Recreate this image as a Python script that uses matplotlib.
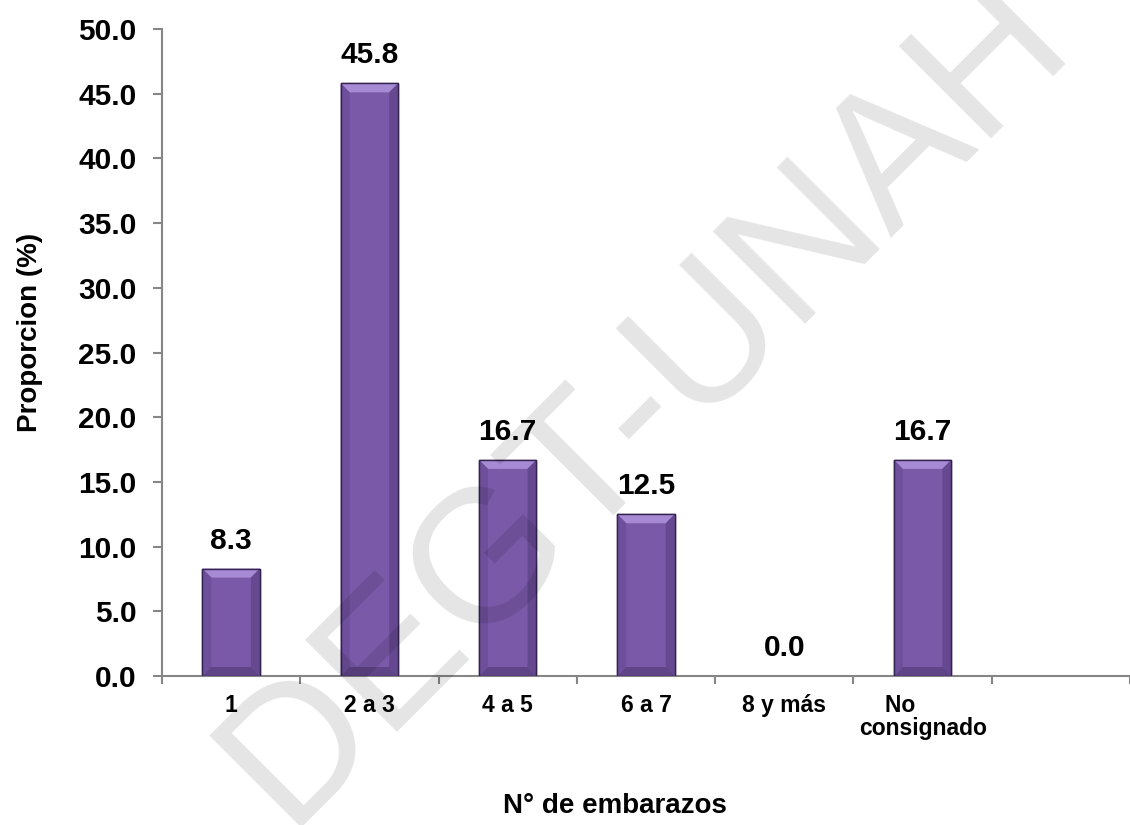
import numpy as np
import matplotlib
matplotlib.use("Agg")
import matplotlib.pyplot as plt
from matplotlib.patches import Polygon

plt.rcParams['font.family'] = ['Liberation Sans', 'DejaVu Sans']
plt.rcParams['font.weight'] = 'bold'

# Data
categories = ["1", "2 a 3", "4 a 5", "6 a 7", "8 y más", "No" + " " * 7 + "\nconsignado"]
proporcion = [8.3, 45.8, 16.7, 12.5, 0.0, 16.7]
y_ticks = [0, 5, 10, 15, 20, 25, 30, 35, 40, 45, 50]

W, H = 1130, 825
fig = plt.figure(figsize=(W / 100, H / 100), dpi=100)
ax = fig.add_axes([162 / W, 149 / H, 1 - 162 / W, (676 - 29) / H])

x = np.arange(len(categories))
bar_w = 0.415
face = '#7959a8'
bars = ax.bar(x, proporcion, width=bar_w, color=face, edgecolor='#33234f',
              linewidth=1.0, zorder=2)

# Bevel shading on each bar (lighter top facet, darker sides/bottom)
bev_x = 9 / 139.5
bev_y = 9 / (647 / 50)
for xi, h in zip(x, proporcion):
    if h <= 0:
        continue
    l, r = xi - bar_w / 2, xi + bar_w / 2
    by = min(bev_y, h / 3)
    facets = [
        ([[l, h], [r, h], [r - bev_x, h - by], [l + bev_x, h - by]], '#a78ad4'),
        ([[l, 0], [l, h], [l + bev_x, h - by], [l + bev_x, by]], '#6e4f9c'),
        ([[r, 0], [r, h], [r - bev_x, h - by], [r - bev_x, by]], '#654890'),
        ([[l, 0], [r, 0], [r - bev_x, by], [l + bev_x, by]], '#5f4488'),
    ]
    for pts, col in facets:
        ax.add_patch(Polygon(pts, closed=True, facecolor=col, edgecolor='none',
                             zorder=3))
    ax.add_patch(Polygon([[l, 0], [r, 0], [r, h], [l, h]], closed=True,
                         facecolor='none', edgecolor='#33234f', linewidth=1.0,
                         zorder=4))

ax.bar_label(bars, fmt='%.1f', padding=10, fontsize=21.5, fontweight='bold',
             color='black')

# Axes
ax.set_ylim(0, 50)
ax.set_xlim(-0.5, (W - 162) / 139.5 - 0.5)
ax.set_yticks(y_ticks)
ax.set_yticklabels([f"{v:.1f}" for v in y_ticks], fontsize=21.5, fontweight='bold')
ax.tick_params(axis='y', length=6.5, width=1.5, color='#868686', pad=12)

ax.set_xticks(np.arange(-0.5, len(categories) + 1, 1))
ax.set_xticklabels([])
ax.tick_params(axis='x', which='major', length=6, width=1.5, color='#868686')
ax.set_xticks(x, minor=True)
ax.set_xticklabels(categories, minor=True, fontsize=16.5, fontweight='bold',
                   linespacing=1.0)
ax.tick_params(axis='x', which='minor', length=0, pad=13)

for s in ('top', 'right'):
    ax.spines[s].set_visible(False)
for s in ('left', 'bottom'):
    ax.spines[s].set_color('#868686')
    ax.spines[s].set_linewidth(1.5)

fig.text(615 / W, 1 - 806 / H, 'N° de embarazos', ha='center', va='center',
         fontsize=20, fontweight='bold')
fig.text(30 / W, 1 - 332 / H, 'Proporcion (%)', ha='center', va='center',
         rotation=90, fontsize=20, fontweight='bold')

# Watermark
fig.text(645 / W, 1 - 400 / H, 'DEGT-UNAH', rotation=45, rotation_mode='anchor',
         ha='center', va='center', fontsize=136, fontweight='normal',
         color='black', alpha=0.105, zorder=10)

fig.savefig('out.png', dpi=100, facecolor='white')
